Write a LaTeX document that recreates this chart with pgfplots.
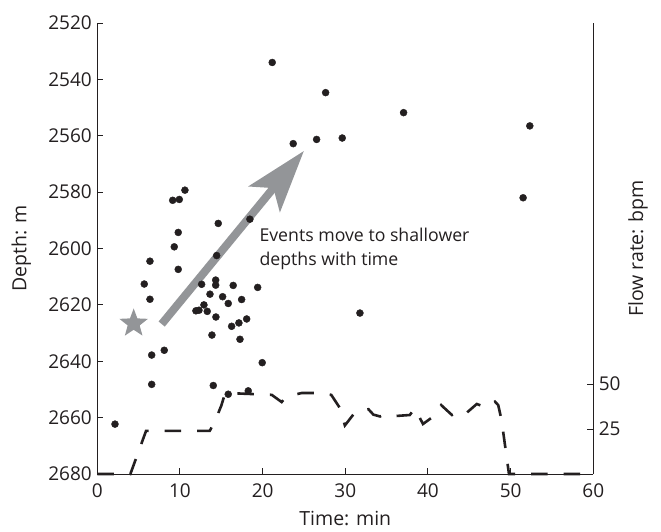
\documentclass[border=0pt]{standalone}
\usepackage{fontspec}
\setmainfont{Open Sans}
\usepackage{pgfplots}
\pgfplotsset{compat=1.18}
\usetikzlibrary{arrows.meta}
\definecolor{txt}{HTML}{231F20}
\definecolor{arrowgray}{HTML}{939598}

% filled five-point star
\pgfdeclareplotmark{fstar}{%
  \pgfpathmoveto{\pgfpointpolar{90}{\pgfplotmarksize}}%
  \pgfpathlineto{\pgfpointpolar{126}{0.42\pgfplotmarksize}}%
  \pgfpathlineto{\pgfpointpolar{162}{\pgfplotmarksize}}%
  \pgfpathlineto{\pgfpointpolar{198}{0.42\pgfplotmarksize}}%
  \pgfpathlineto{\pgfpointpolar{234}{\pgfplotmarksize}}%
  \pgfpathlineto{\pgfpointpolar{270}{0.42\pgfplotmarksize}}%
  \pgfpathlineto{\pgfpointpolar{306}{\pgfplotmarksize}}%
  \pgfpathlineto{\pgfpointpolar{342}{0.42\pgfplotmarksize}}%
  \pgfpathlineto{\pgfpointpolar{18}{\pgfplotmarksize}}%
  \pgfpathlineto{\pgfpointpolar{54}{0.42\pgfplotmarksize}}%
  \pgfpathclose
  \pgfusepathqfill}

\pgfplotsset{
  common/.style={
    scale only axis, width=496pt, height=451pt,
    xmin=0, xmax=60,
    tick align=inside, major tick length=6pt,
    axis line style={txt, line width=1pt},
    every tick/.style={txt, line width=1pt},
    tick label style={text=txt, font=\fontsize{19}{22}\selectfont},
    label style={text=txt, font=\fontsize{19.5}{22}\selectfont},
    /pgf/number format/assume math mode=true,
    /pgf/number format/set thousands separator={},
  }
}

\begin{document}
\begin{tikzpicture}
\begin{axis}[
  common,
  ymin=2520, ymax=2680, y dir=reverse,
  axis x line*=bottom, axis y line*=left,
  xtick={0,10,...,60}, ytick={2520,2540,...,2680},
  xticklabel style={yshift=-6pt},
  yticklabel style={xshift=-2pt},
  xlabel={Time: min}, ylabel={Depth: m},
  xlabel style={at={(axis description cs:0.5,-0.099)}, anchor=center},
  ylabel style={at={(axis description cs:-0.153,0.5)}, anchor=center},
]
% microseismic events
\addplot[only marks, mark=*, mark size=3.5pt, txt] coordinates {
  (10.6,2579.3) (9.12,2582.9) (9.92,2582.6) (14.63,2591.1) (18.46,2589.6)
  (9.79,2594.3) (9.31,2599.4) (14.44,2602.5) (6.37,2604.5) (9.79,2607.4)
  (5.68,2612.6) (12.62,2612.7) (14.32,2611.2) (14.32,2613.0) (16.44,2613.1)
  (19.40,2613.8) (13.63,2616.2) (15.16,2617.1) (6.37,2618.0) (17.46,2618.1)
  (15.84,2619.5) (12.90,2620.0) (11.93,2622.1) (12.30,2621.9) (13.30,2622.3)
  (14.35,2624.3) (18.07,2625.0) (17.13,2626.4) (16.25,2627.6) (13.87,2630.7)
  (17.26,2632.2) (8.10,2636.1) (6.58,2637.8) (19.95,2640.5) (6.58,2648.2)
  (14.03,2648.6) (2.14,2662.3) (15.84,2651.7) (18.26,2650.5) (21.16,2534.0)
  (27.62,2544.7) (37.05,2551.8) (52.32,2556.5) (23.70,2562.8) (26.53,2561.3)
  (29.63,2560.8) (51.51,2582.0) (31.77,2622.9)
};
% perforation / start point
\addplot[only marks, mark=fstar, mark size=15pt, arrowgray] coordinates {(4.4,2626.6)};
\draw[arrowgray, line width=8pt, -{Stealth[length=62pt, width=40pt, inset=14pt]}]
  (axis cs:7.79,2626.8) -- (axis cs:24.99,2565.4);
\node[anchor=north west, align=left, inner sep=0pt, text=txt,
      font=\fontsize{17.7}{24}\selectfont]
  at (axis cs:19.6,2592.6) {Events move to shallower\\depths with time};
\end{axis}

\begin{axis}[
  common,
  ymin=0, ymax=250.7,
  axis x line=none, axis y line*=right,
  ytick={25,50},
  yticklabel style={xshift=2pt},
  ylabel={Flow rate: bpm},
  ylabel style={at={(axis description cs:1.09,0.5)}, anchor=center},
  clip=false,
]
\addplot[txt, line width=2.6pt, dash pattern=on 16.5pt off 16pt] coordinates {
  (0,0) (4,0) (5.9,24) (13.6,24) (14.2,29) (15.0,38) (15.4,44) (15.8,45)
  (21.1,44) (22.3,40) (22.9,43) (24.7,45) (26.5,45) (28.3,44) (29.3,37)
  (29.95,27) (31.3,35) (32.8,36) (33.4,33) (34.2,32) (34.8,33.2) (36,32.2)
  (37.8,32.8) (38.4,36.5) (39.4,27.8) (40.6,31.8) (41.6,38.3) (42.9,32.8)
  (43.9,34.6) (44.5,33.3) (45.9,38.9) (47.1,37) (48.1,40.2) (48.5,38.3)
  (48.9,30) (49.8,0) (60,0)
};
\end{axis}
\pgfresetboundingbox
\useasboundingbox (-97.3pt,-57pt) rectangle (563.7pt,474pt);
\end{tikzpicture}
\end{document}
